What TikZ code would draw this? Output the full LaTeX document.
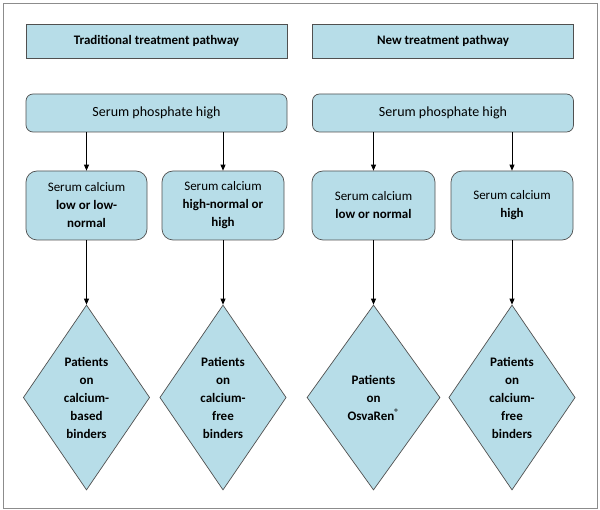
\documentclass[tikz,border=0pt]{standalone}
\usepackage{fontspec}
\setmainfont{Carlito}
\usetikzlibrary{shapes.geometric,arrows.meta}
\definecolor{boxfill}{HTML}{B7DDE8}
\definecolor{boxline}{HTML}{505050}
\definecolor{framec}{HTML}{8C8C8C}
\tikzset{
  base/.style={draw=boxline, fill=boxfill, line width=0.7pt, align=center, inner sep=0pt,
     font=\fontsize{13}{18}\selectfont},
  titlebox/.style={base, minimum width=261pt, minimum height=34pt, font=\fontsize{13}{18}\selectfont\bfseries},
  phosbox/.style={base, rounded corners=7pt, minimum width=261pt, minimum height=38pt, font=\fontsize{14}{18}\selectfont},
  calbox/.style={base, rounded corners=11pt, minimum height=69pt},
  dia/.style={base, diamond, minimum height=185pt, font=\fontsize{13}{18}\selectfont\bfseries},
  arr/.style={-{Triangle[length=6pt,width=5pt]}, line width=0.8pt, black}
}
\begin{document}
\begin{tikzpicture}[x=1pt,y=-1pt]
\useasboundingbox (0,0) rectangle (600,510);
\draw[framec, line width=0.8pt] (3,3) rectangle (597,508);

\node[titlebox] (t1) at (156.5,41) {Traditional treatment pathway};
\node[titlebox] (t2) at (443,41) {New treatment pathway};

\node[phosbox] (p1) at (156.5,113) {Serum phosphate high};
\node[phosbox] (p2) at (443,113) {Serum phosphate high};

\node[calbox, minimum width=121pt] (c1) at (86.5,205.5) {Serum calcium\\\textbf{low or low-}\\\textbf{normal}};
\node[calbox, minimum width=122pt] (c2) at (223,205.5) {Serum calcium\\\textbf{high-normal or}\\\textbf{high}};
\node[calbox, minimum width=123pt] (c3) at (373.5,205.5) {Serum calcium\\\textbf{low or normal}};
\node[calbox, minimum width=122pt] (c4) at (512,205.5) {Serum calcium\\\textbf{high}};

\node[dia, minimum width=121pt] (d1) at (86.5,397.5) {Patients\\on\\calcium-\\based\\binders};
\node[dia, minimum width=117pt] (d2) at (223,397.5) {Patients\\on\\calcium-\\free\\binders};
\node[dia, minimum width=133pt] (d3) at (373.5,397.5) {Patients\\on\\OsvaRen\textsuperscript{®}};
\node[dia, minimum width=114pt] (d4) at (512,397.5) {Patients\\on\\calcium-\\free\\binders};

\foreach \c/\p in {c1/p1,c2/p1,c3/p2,c4/p2}{
  \draw[arr] (\c.north |- \p.south) -- (\c.north);
}
\foreach \c/\d in {c1/d1,c2/d2,c3/d3,c4/d4}{
  \draw[arr] (\c.south) -- (\d.north);
}
\end{tikzpicture}
\end{document}
